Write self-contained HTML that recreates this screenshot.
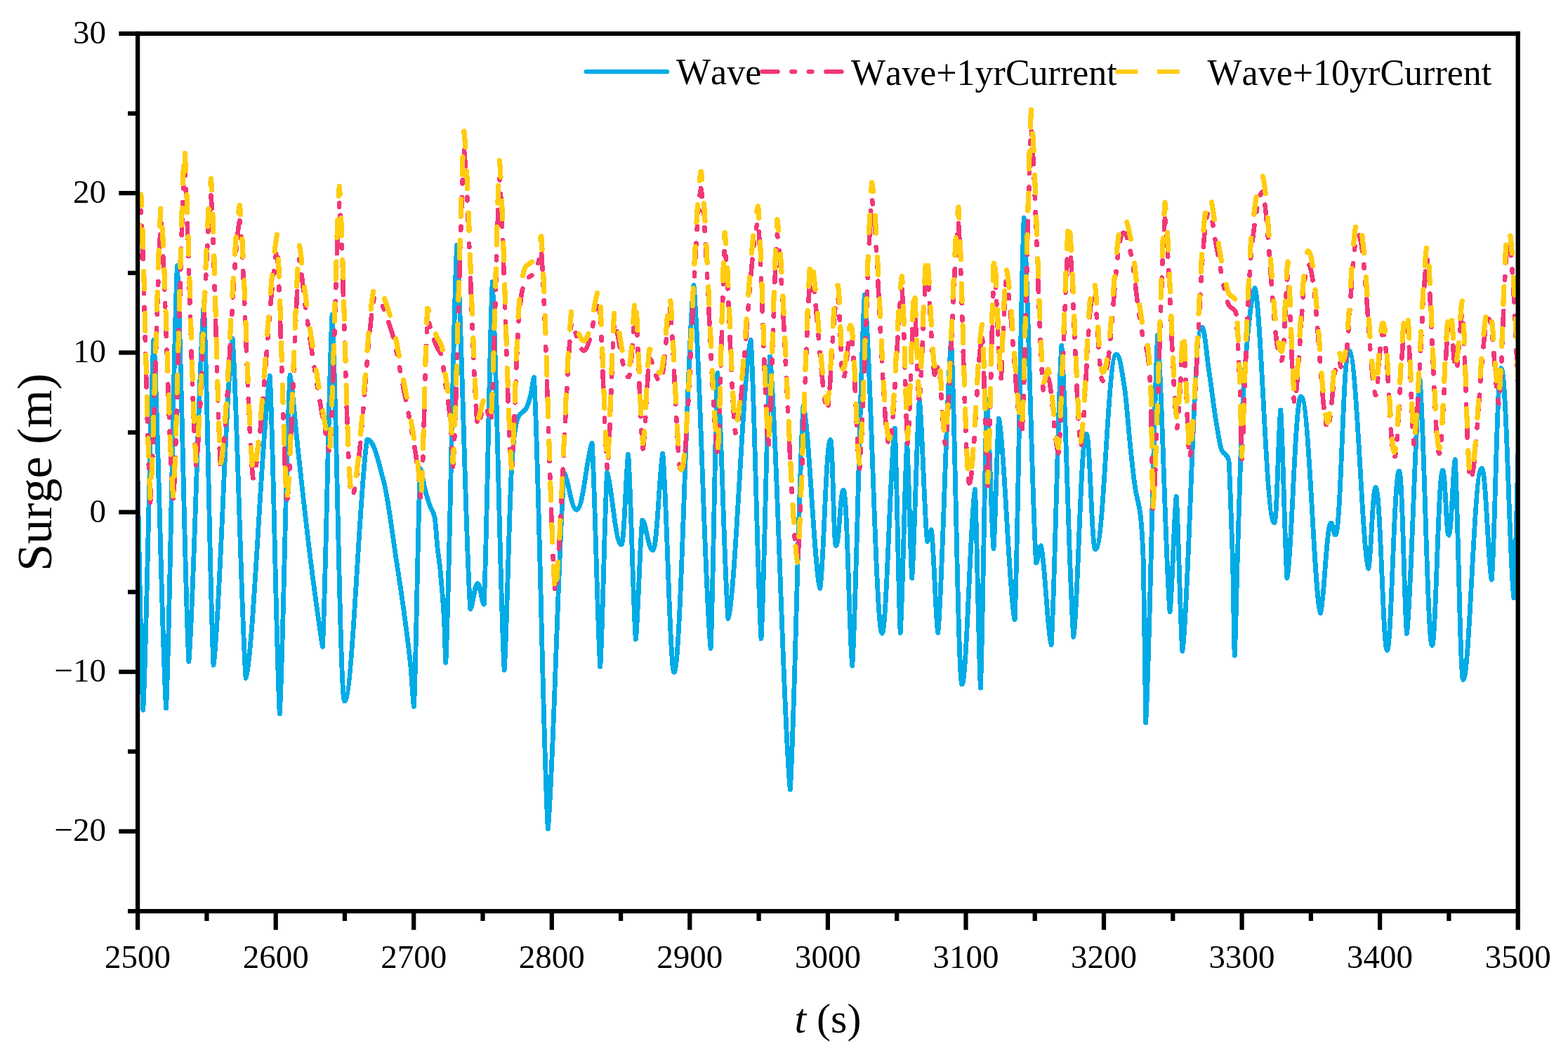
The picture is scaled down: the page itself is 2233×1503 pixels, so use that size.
<!DOCTYPE html>
<html lang="en"><head><meta charset="utf-8"><title>Surge time series</title>
<style>
html,body{margin:0;padding:0;background:#fff}
body{width:2233px;height:1503px;overflow:hidden}
svg{display:block}
text{font-family:"Liberation Serif","Times New Roman",serif;fill:#000;font-kerning:none}
</style></head>
<body>
<svg width="2233" height="1503" viewBox="0 0 2233 1503">
<rect width="2233" height="1503" fill="#fff"/>
<defs><clipPath id="plot"><rect x="196.1" y="47.8" width="1965.6" height="1250.2"/></clipPath></defs>
<g clip-path="url(#plot)" fill="none" stroke-linejoin="round" shape-rendering="crispEdges">
<path stroke="#00ABE6" stroke-width="6.8" stroke-linecap="round" d="M172.0 1000.0C178.2 910.5 184.3 552.5 190.5 463.0C194.9 554.4 199.4 920.0 203.8 1011.4C208.8 923.6 213.9 572.2 218.9 484.4C224.8 571.9 230.7 921.6 236.6 1009.1C241.9 904.0 247.1 483.8 252.4 378.7C257.9 472.6 263.4 848.4 268.9 942.4C276.0 862.1 283.2 514.9 290.3 434.6C294.9 520.1 299.4 861.9 304.0 947.4C313.0 894.1 322.1 535.4 331.1 482.1C337.4 562.8 343.8 885.5 350.1 966.2C361.5 930.0 372.9 607.1 384.3 535.3C389.0 615.6 393.6 936.7 398.3 1017.0C403.2 936.5 408.1 614.7 413.0 534.2C416.8 551.8 420.5 605.8 424.3 640.0C430.3 694.8 436.4 750.9 442.4 799.0C447.3 837.8 452.1 873.2 457.0 906.0C457.8 911.4 458.6 920.7 459.4 921.4C463.9 842.5 468.5 527.1 473.0 448.2C478.9 540.0 484.3 999.0 490.6 999.0C502.2 999.0 512.1 688.4 522.8 626.3C533.0 626.3 538.6 657.1 546.5 686.0C552.5 708.1 558.6 759.7 564.6 799.0C567.6 818.8 570.7 838.3 573.7 860.5C577.5 888.0 581.2 913.1 585.0 951.0C586.5 966.1 588.0 1002.3 589.5 1006.9C592.5 950.4 595.5 724.2 598.5 667.7C600.8 668.9 603.0 689.0 605.3 697.5C607.6 706.0 609.8 713.6 612.1 720.0C614.4 726.5 616.7 727.2 619.0 737.0C620.3 742.7 621.7 767.8 623.0 780.0C624.3 792.2 625.7 799.0 627.0 812.0C628.8 829.9 630.7 849.5 632.5 883.0C633.3 897.0 634.0 934.0 634.8 944.2C640.1 845.1 645.3 448.5 650.6 349.3C657.0 435.7 663.4 781.3 669.8 867.7C673.3 866.2 675.7 831.3 680.2 831.3C684.1 831.3 686.2 859.8 689.2 861.0C693.2 784.5 697.2 478.3 701.2 401.8C706.9 494.0 712.5 862.6 718.2 954.8C721.7 906.3 725.3 716.2 728.8 663.6C730.3 641.3 731.8 623.3 733.3 614.0C734.9 604.1 736.5 596.4 738.1 593.5C741.8 586.8 745.5 587.9 749.2 582.0C751.5 578.4 753.7 570.8 756.0 562.0C757.5 556.2 759.0 538.6 760.5 537.6C767.1 644.8 773.7 1073.8 780.3 1181.0C788.0 1106.9 795.8 757.9 803.5 673.3C809.4 682.1 813.5 726.3 821.1 726.3C830.6 726.3 835.8 647.3 843.1 631.5C847.0 684.6 850.9 896.8 854.8 949.9C858.1 903.8 861.3 719.4 864.6 673.3C871.4 690.4 876.2 776.0 884.9 776.0C889.1 776.0 891.4 668.8 894.7 647.3C898.2 691.2 901.8 867.1 905.3 910.7C908.5 890.5 911.6 761.4 914.8 741.2C919.8 742.9 923.3 784.0 929.7 784.0C935.8 784.0 939.1 669.2 943.8 646.2C949.2 698.2 954.2 958.2 960.0 958.2C970.0 958.2 978.6 479.1 987.9 406.3C996.0 480.1 1004.0 850.0 1012.1 923.8C1015.3 858.4 1018.6 596.7 1021.8 531.3C1026.9 585.0 1031.9 827.6 1037.0 881.3C1047.8 848.8 1058.5 516.9 1069.3 484.4C1074.2 555.3 1079.1 839.1 1084.0 910.0C1088.2 843.0 1092.3 575.2 1096.5 508.2C1106.1 596.2 1115.7 1036.9 1125.3 1124.9C1131.5 1033.8 1137.8 669.4 1144.0 578.3C1151.9 597.2 1159.9 819.4 1167.8 838.3C1172.7 818.1 1176.2 626.3 1182.6 626.3C1186.0 626.3 1187.1 777.5 1190.5 777.5C1195.1 777.5 1196.6 698.2 1201.2 698.2C1206.6 698.2 1209.6 915.4 1213.8 948.5C1219.6 860.4 1225.5 508.0 1231.3 419.9C1239.6 482.2 1247.2 902.4 1256.2 902.4C1262.7 902.4 1268.3 641.5 1274.3 610.0C1276.9 658.6 1279.6 853.1 1282.2 901.7C1285.4 856.7 1288.5 676.5 1291.7 631.5C1294.0 663.5 1296.4 791.6 1298.7 823.6C1302.2 782.9 1305.8 610.0 1309.3 569.3C1313.1 593.4 1316.8 747.4 1320.6 771.5C1322.5 770.8 1324.4 755.5 1326.3 754.8C1329.5 769.9 1332.6 886.6 1335.8 901.7C1342.1 840.3 1348.3 547.0 1354.6 485.6C1359.7 567.2 1364.5 975.2 1370.0 975.2C1376.7 975.2 1382.3 725.0 1388.5 697.1C1391.1 744.3 1393.8 933.0 1396.4 980.2C1399.4 911.7 1402.5 637.8 1405.5 569.3C1408.7 601.0 1411.8 750.1 1415.0 781.8C1417.5 750.9 1419.9 627.3 1422.4 596.4C1430.0 620.5 1437.5 858.8 1445.1 882.9C1449.5 787.4 1453.8 405.6 1458.2 310.2C1464.0 392.2 1469.8 720.1 1475.6 802.1C1477.9 801.1 1480.1 778.4 1482.4 777.4C1487.3 786.4 1492.2 909.6 1497.1 918.6C1502.0 847.6 1506.9 563.4 1511.8 492.4C1517.5 559.9 1523.1 839.8 1528.8 907.3C1534.8 876.5 1539.1 617.9 1546.9 617.9C1552.5 617.9 1554.4 782.9 1560.0 782.9C1572.9 782.9 1577.0 504.8 1589.9 504.8C1594.8 504.8 1597.4 528.4 1601.2 550.5C1604.2 568.1 1607.2 613.8 1610.2 641.0C1612.5 661.6 1614.7 683.5 1617.0 697.6C1619.3 711.7 1621.5 713.9 1623.8 731.5C1625.3 743.2 1626.8 761.6 1628.3 800.0C1629.4 829.0 1630.6 991.2 1631.7 1029.5C1637.4 937.5 1643.0 569.6 1648.7 477.6C1654.5 537.1 1660.3 812.1 1666.1 871.6C1669.1 851.8 1672.2 727.1 1675.2 707.3C1678.1 744.0 1680.9 891.0 1683.8 927.7C1693.0 876.2 1699.5 466.0 1711.4 466.0C1715.8 466.0 1718.2 505.8 1721.6 527.9C1725.4 552.4 1729.1 585.3 1732.9 607.0C1735.2 620.0 1737.4 635.9 1739.7 641.0C1743.1 648.6 1746.4 644.2 1749.8 655.0C1750.5 657.3 1751.3 682.8 1752.0 700.0C1753.2 727.4 1754.3 756.3 1755.5 799.0C1756.4 831.9 1757.3 911.5 1758.2 934.0C1759.6 910.8 1760.9 839.9 1762.3 795.0C1763.8 745.8 1765.3 691.7 1766.8 652.0C1768.5 607.8 1770.1 561.1 1771.8 539.0C1776.9 471.1 1782.1 417.6 1787.2 410.4C1796.4 437.4 1802.9 744.8 1814.8 744.8C1818.7 744.8 1820.8 603.2 1823.8 584.0C1826.8 623.9 1829.9 783.7 1832.9 823.6C1839.5 801.2 1844.2 564.8 1852.8 564.8C1864.7 564.8 1871.2 850.4 1880.4 873.4C1885.4 866.1 1889.0 745.0 1895.5 745.0C1898.2 745.0 1899.1 762.0 1901.8 762.0C1909.9 762.0 1912.6 498.7 1920.7 498.7C1932.8 498.7 1939.5 787.1 1948.9 810.0C1952.3 801.2 1954.7 694.2 1959.1 694.2C1966.1 694.2 1969.5 926.6 1975.4 926.6C1981.6 926.6 1985.2 671.1 1992.6 671.1C1997.3 671.1 1999.9 870.0 2003.5 902.8C2009.7 855.4 2015.8 587.4 2022.0 540.0C2027.8 595.3 2033.1 919.8 2039.4 919.8C2044.9 919.8 2048.1 670.0 2054.6 670.0C2058.3 670.0 2059.5 762.5 2063.2 762.5C2067.1 762.5 2069.2 663.4 2072.2 654.8C2076.0 707.1 2079.5 968.4 2083.6 968.4C2093.2 968.4 2098.8 667.0 2110.2 667.0C2116.3 667.0 2119.6 814.0 2124.3 825.9C2128.8 781.0 2132.0 524.5 2137.8 524.5C2145.6 524.5 2149.9 812.4 2155.9 851.9C2159.6 789.9 2163.3 542.0 2167.0 480.0C2173.0 545.3 2179.0 834.7 2185.0 900.0"/>
<path stroke="#F2367A" stroke-width="6.6" stroke-linecap="round" stroke-dasharray="22.5 19.5 5 19.5 5 19.5" stroke-dashoffset="0" d="M182.3 707.2C188.5 647.4 194.6 359.6 200.8 299.8C205.2 369.1 209.7 646.5 214.1 715.8C219.1 649.2 224.2 382.6 229.2 316.0C235.1 375.7 241.0 654.4 246.9 714.1C252.2 634.4 257.4 315.5 262.7 235.8C268.2 307.1 273.7 592.2 279.2 663.5C286.3 617.3 293.5 324.5 300.6 278.2C305.2 343.1 309.7 602.4 314.3 667.3C323.3 636.6 332.4 344.9 341.4 314.2C347.7 361.6 354.1 634.2 360.4 681.6C371.8 660.7 383.2 409.1 394.6 354.6C399.3 415.5 403.9 659.2 408.6 720.1C414.5 673.7 420.4 427.6 426.3 369.1C429.1 379.9 431.8 413.9 434.6 434.1C440.6 477.9 446.7 518.2 452.7 554.7C457.6 584.1 462.4 611.0 467.3 635.9C468.1 640.0 468.9 647.1 469.7 647.6C474.2 587.7 478.8 348.4 483.3 288.5C489.2 354.7 494.6 706.4 500.9 706.4C512.5 706.4 522.4 470.8 533.1 423.7C543.3 423.7 548.9 447.0 556.8 469.0C562.8 485.7 568.9 524.9 574.9 554.7C577.9 569.7 581.0 584.5 584.0 601.4C587.8 622.2 591.5 641.3 595.3 670.0C596.8 681.5 598.3 709.8 599.8 712.4C602.8 669.5 605.8 498.0 608.8 455.1C611.1 456.0 613.3 471.2 615.6 477.7C617.9 484.2 620.1 489.9 622.4 494.8C624.7 499.7 627.0 500.2 629.3 507.7C630.6 511.9 632.0 531.0 633.3 540.3C634.6 549.6 636.0 554.7 637.3 564.6C639.1 578.1 641.0 593.0 642.8 618.4C643.6 629.0 644.3 658.6 645.1 664.9C650.4 589.6 655.6 288.7 660.9 213.5C667.3 267.2 673.7 553.1 680.1 606.8C683.6 605.7 686.0 579.2 690.5 579.2C694.4 579.2 696.5 600.8 699.5 601.7C703.5 543.7 707.5 311.4 711.5 253.3C717.2 322.4 722.8 603.9 728.5 672.9C732.0 642.2 735.6 491.8 739.1 452.0C740.6 435.0 742.1 421.4 743.6 414.3C745.2 406.8 746.8 401.0 748.4 398.8C752.1 393.7 755.8 394.5 759.5 390.0C761.8 387.3 764.0 381.6 766.3 374.9C767.8 370.4 769.3 357.1 770.8 356.4C777.4 436.6 784.0 764.3 790.6 844.5C798.3 801.9 806.1 523.5 813.8 459.3C819.7 466.0 823.8 499.5 831.4 499.5C840.9 499.5 846.1 439.6 853.4 427.6C857.3 467.9 861.2 635.9 865.1 669.2C868.4 639.2 871.6 494.3 874.9 459.3C881.7 472.3 886.5 537.2 895.2 537.2C899.4 537.2 901.7 455.9 905.0 439.6C908.5 472.9 912.1 614.3 915.6 639.4C918.8 627.8 921.9 522.4 925.1 510.8C930.1 512.1 933.6 543.3 940.0 543.3C946.1 543.3 949.4 456.2 954.1 438.8C959.5 478.2 964.5 675.5 970.3 675.5C980.3 675.5 988.9 307.9 998.2 268.2C1006.3 308.3 1014.3 609.4 1022.4 649.4C1025.6 599.7 1028.9 401.2 1032.1 351.6C1037.2 382.5 1042.2 586.2 1047.3 617.1C1058.1 598.4 1068.8 334.7 1079.6 316.0C1084.5 363.3 1089.4 591.6 1094.3 638.9C1098.5 589.3 1102.6 383.6 1106.8 334.1C1116.4 384.7 1126.0 751.3 1135.6 802.0C1141.8 740.6 1148.1 448.6 1154.3 387.2C1162.2 398.1 1170.2 573.6 1178.1 584.5C1183.0 572.9 1186.5 423.7 1192.9 423.7C1196.3 423.7 1197.4 538.4 1200.8 538.4C1205.4 538.4 1206.9 478.2 1211.5 478.2C1216.9 478.2 1219.9 649.0 1224.1 668.1C1229.9 611.7 1235.8 339.7 1241.6 283.3C1249.9 316.1 1257.5 633.1 1266.5 633.1C1273.0 633.1 1278.6 429.4 1284.6 411.3C1287.2 448.2 1289.9 595.7 1292.5 632.6C1295.7 603.1 1298.8 457.1 1302.0 427.6C1304.3 447.8 1306.7 553.1 1309.0 573.4C1312.5 549.9 1316.1 403.8 1319.6 380.4C1323.4 394.3 1327.1 519.9 1330.9 533.8C1332.8 533.3 1334.7 521.7 1336.6 521.2C1339.8 529.9 1342.9 623.9 1346.1 632.6C1352.4 597.3 1358.6 352.3 1364.9 316.9C1370.0 376.6 1374.8 688.4 1380.3 688.4C1387.0 688.4 1392.6 493.4 1398.8 477.4C1401.4 513.2 1404.1 656.4 1406.7 692.2C1409.7 640.2 1412.8 432.4 1415.8 380.4C1419.0 398.7 1422.1 523.4 1425.3 541.6C1427.8 523.8 1430.2 418.8 1432.7 401.0C1440.3 414.9 1447.8 604.5 1455.4 618.4C1459.8 545.9 1464.1 256.2 1468.5 183.8C1474.3 237.2 1480.1 503.7 1485.9 557.0C1488.2 556.3 1490.4 539.1 1492.7 538.3C1497.6 543.5 1502.5 640.2 1507.4 645.4C1512.3 601.6 1517.2 378.4 1522.1 334.5C1527.8 370.4 1533.4 601.0 1539.1 636.9C1545.1 619.1 1549.4 417.3 1557.2 417.3C1562.8 417.3 1564.7 542.5 1570.3 542.5C1583.2 542.5 1587.3 331.5 1600.2 331.5C1605.1 331.5 1607.7 349.4 1611.5 366.1C1614.5 379.5 1617.5 414.2 1620.5 434.8C1622.8 450.4 1625.0 467.0 1627.3 477.8C1629.6 488.5 1631.8 490.1 1634.1 503.5C1635.6 512.3 1637.1 526.3 1638.6 555.5C1639.7 577.5 1640.9 700.6 1642.0 729.6C1647.7 660.8 1653.3 379.6 1659.0 310.8C1664.8 345.1 1670.6 575.5 1676.4 609.8C1679.4 598.4 1682.5 496.5 1685.5 485.1C1688.4 506.8 1691.2 630.7 1694.1 652.3C1703.3 622.7 1709.8 302.0 1721.7 302.0C1726.1 302.0 1728.5 332.2 1731.9 349.0C1735.7 367.6 1739.4 392.6 1743.2 409.0C1745.5 418.9 1747.7 430.9 1750.0 434.8C1753.4 440.6 1756.7 437.3 1760.1 445.4C1760.8 447.2 1761.6 466.5 1762.3 479.6C1763.5 500.3 1764.6 522.3 1765.8 554.7C1766.7 579.7 1767.6 640.1 1768.5 657.1C1769.9 639.5 1771.2 585.7 1772.6 551.7C1774.1 514.3 1775.6 473.3 1777.1 443.2C1778.8 409.7 1780.4 372.6 1782.1 357.4C1787.2 310.8 1792.4 276.6 1797.5 273.3C1806.7 287.2 1813.2 513.6 1825.1 513.6C1829.0 513.6 1831.1 402.6 1834.1 391.6C1837.1 415.8 1840.2 549.1 1843.2 573.4C1849.8 560.4 1854.5 377.0 1863.1 377.0C1875.0 377.0 1881.5 597.9 1890.7 611.1C1895.7 607.0 1899.3 513.7 1905.8 513.7C1908.5 513.7 1909.4 526.6 1912.1 526.6C1921.5 526.6 1924.6 334.5 1934.0 334.5C1944.8 334.5 1950.8 549.2 1959.2 563.0C1962.6 558.0 1965.0 475.2 1969.4 475.2C1976.4 475.2 1979.8 651.5 1985.7 651.5C1991.9 651.5 1995.5 457.7 2002.9 457.7C2007.6 457.7 2010.2 614.5 2013.8 633.5C2020.0 608.2 2026.1 394.0 2032.3 368.7C2038.1 398.3 2043.4 646.3 2049.7 646.3C2055.2 646.3 2058.4 456.8 2064.9 456.8C2068.6 456.8 2069.8 527.0 2073.5 527.0C2077.4 527.0 2079.5 450.2 2082.5 445.3C2086.3 478.4 2089.8 683.2 2093.9 683.2C2103.5 683.2 2109.1 454.5 2120.5 454.5C2126.6 454.5 2129.9 568.2 2134.6 575.1C2139.1 549.3 2142.3 346.4 2148.1 346.4C2155.9 346.4 2160.2 572.1 2166.2 594.8C2169.9 547.8 2173.6 359.7 2177.3 312.7C2183.3 350.3 2189.3 593.7 2195.3 631.3"/>
<path stroke="#FFCC10" stroke-width="7.2" stroke-linecap="round" stroke-dasharray="25 34.5" stroke-dashoffset="0" d="M182.3 702.4C188.5 637.2 194.6 342.3 200.8 277.1C205.2 349.5 209.7 639.0 214.1 711.4C219.1 641.9 224.2 363.6 229.2 294.0C235.1 359.1 241.0 644.6 246.9 709.6C252.2 626.4 257.4 293.5 262.7 210.3C268.2 284.7 273.7 582.4 279.2 656.8C286.3 606.4 293.5 305.0 300.6 254.6C305.2 322.3 309.7 593.1 314.3 660.7C323.3 627.3 332.4 325.6 341.4 292.2C347.7 343.8 354.1 624.1 360.4 675.6C371.8 652.9 383.2 391.2 394.6 334.4C399.3 397.9 403.9 652.3 408.6 715.9C414.5 665.3 420.4 410.5 426.3 349.5C429.1 360.8 431.8 396.3 434.6 417.3C440.6 463.1 446.7 505.1 452.7 543.2C457.6 573.9 462.4 602.0 467.3 628.0C468.1 632.2 468.9 639.7 469.7 640.1C474.2 577.7 478.8 327.8 483.3 265.4C489.2 337.5 494.6 701.6 500.9 701.6C512.5 701.6 522.4 455.6 533.1 406.4C543.3 406.4 548.9 430.8 556.8 453.7C562.8 471.2 568.9 512.1 574.9 543.2C577.9 558.9 581.0 574.4 584.0 591.9C587.8 613.7 591.5 633.6 595.3 663.6C596.8 675.5 598.3 705.0 599.8 707.9C602.8 663.1 605.8 484.0 608.8 439.2C611.1 440.2 613.3 456.1 615.6 462.8C617.9 469.6 620.1 475.6 622.4 480.6C624.7 485.8 627.0 486.4 629.3 494.1C630.6 498.6 632.0 518.5 633.3 528.2C634.6 537.8 636.0 543.2 637.3 553.5C639.1 567.7 641.0 583.2 642.8 609.7C643.6 620.8 644.3 651.4 645.1 658.2C650.4 579.7 655.6 265.6 660.9 187.0C667.3 245.6 673.7 539.1 680.1 597.6C683.6 596.5 686.0 568.8 690.5 568.8C694.4 568.8 696.5 591.4 699.5 592.3C703.5 531.7 707.5 289.2 711.5 228.6C717.2 301.6 722.8 593.6 728.5 666.6C732.0 633.1 735.6 477.6 739.1 436.0C740.6 418.3 742.1 404.0 743.6 396.7C745.2 388.8 746.8 382.8 748.4 380.5C752.1 375.1 755.8 376.0 759.5 371.3C761.8 368.5 764.0 362.5 766.3 355.5C767.8 350.9 769.3 337.0 770.8 336.2C777.4 421.1 784.0 760.8 790.6 845.8C798.3 799.3 806.1 510.7 813.8 443.7C819.7 450.6 823.8 485.6 831.4 485.6C840.9 485.6 846.1 423.1 853.4 410.5C857.3 452.6 861.2 626.5 865.1 662.7C868.4 630.1 871.6 480.2 874.9 443.7C881.7 457.2 886.5 525.0 895.2 525.0C899.4 525.0 901.7 440.1 905.0 423.1C908.5 457.8 912.1 604.3 915.6 631.7C918.8 619.0 921.9 510.1 925.1 497.4C930.1 498.8 933.6 531.3 940.0 531.3C946.1 531.3 949.4 440.4 954.1 422.2C959.5 463.4 964.5 669.3 970.3 669.3C980.3 669.3 988.9 287.4 998.2 244.2C1006.3 287.8 1014.3 598.4 1022.4 642.0C1025.6 590.2 1028.9 383.0 1032.1 331.2C1037.2 364.9 1042.2 574.7 1047.3 608.4C1058.1 588.0 1068.8 314.4 1079.6 294.0C1084.5 345.6 1089.4 579.6 1094.3 631.1C1098.5 578.1 1102.6 365.9 1106.8 312.9C1116.4 368.1 1126.0 746.1 1135.6 801.3C1141.8 734.5 1148.1 435.2 1154.3 368.4C1162.2 380.3 1170.2 562.5 1178.1 574.3C1183.0 561.6 1186.5 406.4 1192.9 406.4C1196.3 406.4 1197.4 526.2 1200.8 526.2C1205.4 526.2 1206.9 463.4 1211.5 463.4C1216.9 463.4 1219.9 640.8 1224.1 661.6C1229.9 600.2 1235.8 321.4 1241.6 260.0C1249.9 295.7 1257.5 625.1 1266.5 625.1C1273.0 625.1 1278.6 413.3 1284.6 393.5C1287.2 432.0 1289.9 586.0 1292.5 624.5C1295.7 592.4 1298.8 442.7 1302.0 410.5C1304.3 432.6 1306.7 540.6 1309.0 562.7C1312.5 537.2 1316.1 386.8 1319.6 361.3C1323.4 376.4 1327.1 506.3 1330.9 521.4C1332.8 520.9 1334.7 508.7 1336.6 508.2C1339.8 517.7 1342.9 615.0 1346.1 624.5C1352.4 586.0 1358.6 333.5 1364.9 295.0C1370.0 359.6 1374.8 682.8 1380.3 682.8C1387.0 682.8 1392.6 480.0 1398.8 462.5C1401.4 499.9 1404.1 649.3 1406.7 686.7C1409.7 632.5 1412.8 415.5 1415.8 361.3C1419.0 381.2 1422.1 509.7 1425.3 529.6C1427.8 510.2 1430.2 402.2 1432.7 382.7C1440.3 397.9 1447.8 594.5 1455.4 609.7C1459.8 534.1 1464.1 231.7 1468.5 156.1C1474.3 214.2 1480.1 487.5 1485.9 545.7C1488.2 544.9 1490.4 526.9 1492.7 526.1C1497.6 531.8 1502.5 632.3 1507.4 637.9C1512.3 590.2 1517.2 361.2 1522.1 313.4C1527.8 352.4 1533.4 589.9 1539.1 629.0C1545.1 609.6 1549.4 399.8 1557.2 399.8C1562.8 399.8 1564.7 530.5 1570.3 530.5C1583.2 530.5 1587.3 310.2 1600.2 310.2C1605.1 310.2 1607.7 328.9 1611.5 346.4C1614.5 360.3 1617.5 396.5 1620.5 418.1C1622.8 434.4 1625.0 451.7 1627.3 462.9C1629.6 474.1 1631.8 475.8 1634.1 489.7C1635.6 499.0 1637.1 513.6 1638.6 544.0C1639.7 567.0 1640.9 695.5 1642.0 725.8C1647.7 652.9 1653.3 361.5 1659.0 288.7C1664.8 326.0 1670.6 563.4 1676.4 600.7C1679.4 588.3 1682.5 483.0 1685.5 470.6C1688.4 494.2 1691.2 621.5 1694.1 645.1C1703.3 612.8 1709.8 279.5 1721.7 279.5C1726.1 279.5 1728.5 311.0 1731.9 328.5C1735.7 347.9 1739.4 374.0 1743.2 391.1C1745.5 401.5 1747.7 414.0 1750.0 418.1C1753.4 424.1 1756.7 420.6 1760.1 429.2C1760.8 431.0 1761.6 451.2 1762.3 464.8C1763.5 486.5 1764.6 509.4 1765.8 543.2C1766.7 569.3 1767.6 632.3 1768.5 650.1C1769.9 631.8 1771.2 575.6 1772.6 540.0C1774.1 501.0 1775.6 458.3 1777.1 426.8C1778.8 391.8 1780.4 353.1 1782.1 337.3C1787.2 288.6 1792.4 253.0 1797.5 249.4C1806.7 264.6 1813.2 500.3 1825.1 500.3C1829.0 500.3 1831.1 384.9 1834.1 372.9C1837.1 399.3 1840.2 536.3 1843.2 562.7C1849.8 548.6 1854.5 357.7 1863.1 357.7C1875.0 357.7 1881.5 587.7 1890.7 602.1C1895.7 597.6 1899.3 500.4 1905.8 500.4C1908.5 500.4 1909.4 513.9 1912.1 513.9C1921.5 513.9 1924.6 313.4 1934.0 313.4C1944.8 313.4 1950.8 536.9 1959.2 551.9C1962.6 546.4 1965.0 460.2 1969.4 460.2C1976.4 460.2 1979.8 644.3 1985.7 644.3C1991.9 644.3 1995.5 441.9 2002.9 441.9C2007.6 441.9 2010.2 604.8 2013.8 625.4C2020.0 597.9 2026.1 376.6 2032.3 349.1C2038.1 381.3 2043.4 638.9 2049.7 638.9C2055.2 638.9 2058.4 441.0 2064.9 441.0C2068.6 441.0 2069.8 514.3 2073.5 514.3C2077.4 514.3 2079.5 434.4 2082.5 429.0C2086.3 465.1 2089.8 677.4 2093.9 677.4C2103.5 677.4 2109.1 438.7 2120.5 438.7C2126.6 438.7 2129.9 557.0 2134.6 564.5C2139.1 536.4 2142.3 325.8 2148.1 325.8C2155.9 325.8 2160.2 560.3 2166.2 585.1C2169.9 536.0 2173.6 339.7 2177.3 290.6C2183.3 331.5 2189.3 582.2 2195.3 623.2"/>
</g>
<g stroke="#000" stroke-width="6.25" fill="none" stroke-linecap="butt">
<path d="M169.3 47.8H2164.8"/>
<path d="M182.1 1298.0H2164.8"/>
<path d="M196.1 44.7V1324.8"/>
<path d="M2161.7 44.7V1324.8"/>
<path d="M169.3 1184.3H196.1M169.3 957.0H196.1M169.3 729.7H196.1M169.3 502.4H196.1M169.3 275.1H196.1M182.1 1070.7H196.1M182.1 843.4H196.1M182.1 616.1H196.1M182.1 388.8H196.1M182.1 161.5H196.1M392.7 1298.0V1324.8M589.2 1298.0V1324.8M785.8 1298.0V1324.8M982.3 1298.0V1324.8M1178.9 1298.0V1324.8M1375.5 1298.0V1324.8M1572.0 1298.0V1324.8M1768.6 1298.0V1324.8M1965.1 1298.0V1324.8M294.4 1298.0V1312.0M490.9 1298.0V1312.0M687.5 1298.0V1312.0M884.1 1298.0V1312.0M1080.6 1298.0V1312.0M1277.2 1298.0V1312.0M1473.7 1298.0V1312.0M1670.3 1298.0V1312.0M1866.9 1298.0V1312.0M2063.4 1298.0V1312.0"/>
</g>
<g font-size="47" text-anchor="middle">
<text x="196.1" y="1379.4">2500</text>
<text x="392.7" y="1379.4">2600</text>
<text x="589.2" y="1379.4">2700</text>
<text x="785.8" y="1379.4">2800</text>
<text x="982.3" y="1379.4">2900</text>
<text x="1178.9" y="1379.4">3000</text>
<text x="1375.5" y="1379.4">3100</text>
<text x="1572.0" y="1379.4">3200</text>
<text x="1768.6" y="1379.4">3300</text>
<text x="1965.1" y="1379.4">3400</text>
<text x="2161.7" y="1379.4">3500</text>
</g>
<g font-size="47" text-anchor="end">
<text x="151" y="1198.3">−20</text>
<text x="151" y="971.0">−10</text>
<text x="151" y="743.7">0</text>
<text x="151" y="516.4">10</text>
<text x="151" y="289.1">20</text>
<text x="151" y="61.8">30</text>
</g>
<text font-size="60" text-anchor="middle" x="1178.9" y="1471.4"><tspan font-style="italic">t</tspan> (s)</text>
<text font-size="70" text-anchor="middle" transform="translate(72.6 672.9) rotate(-90)">Surge (m)</text>
<g fill="none" stroke-width="6.25" stroke-linecap="round">
<path stroke="#00ABE6" d="M834.6 102.1H950.2"/>
<path stroke="#F2367A" stroke-dasharray="22.5 19.5 5 19.5 5 19.5" d="M1085.2 102.1H1198.6"/>
<path stroke="#FFCC10" stroke-linecap="butt" stroke-dasharray="32 27.4" d="M1588.4 102.1H1700.0"/>
</g>
<g font-size="52">
<text x="963" y="120.3">Wave</text>
<text x="1212" y="120.5">Wave+1yrCurrent</text>
<text x="1719.5" y="120.5">Wave+10yrCurrent</text>
</g>
</svg>
</body></html>
